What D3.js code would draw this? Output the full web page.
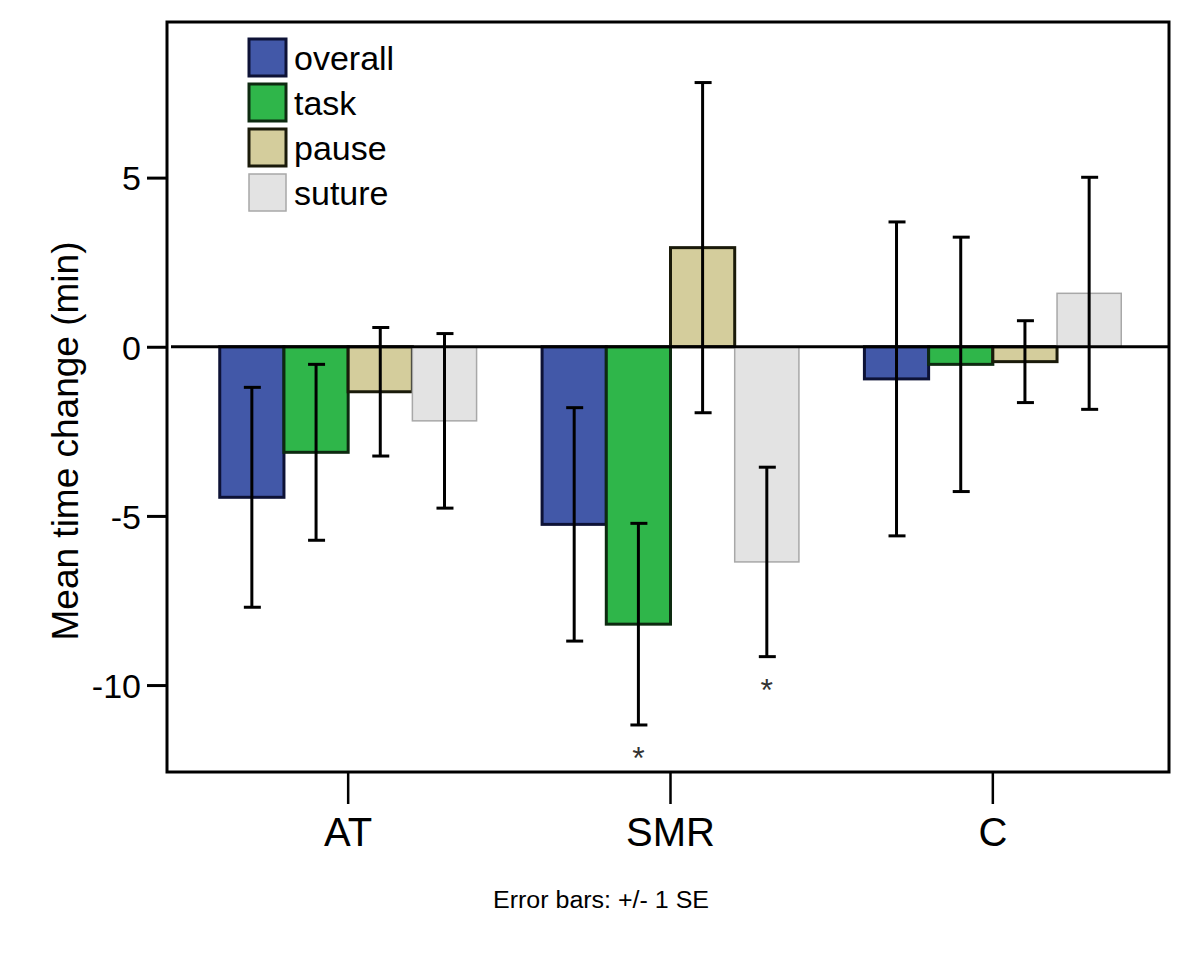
<!DOCTYPE html>
<html>
<head>
<meta charset="utf-8">
<script src="https://cdn.jsdelivr.net/npm/d3@7/dist/d3.min.js"></script>
<style>
  html, body { margin: 0; padding: 0; background: #fff; }
  svg { display: block; font-family: "Liberation Sans", Arial, sans-serif; }
</style>
</head>
<body>
<svg id="chart" width="1200" height="960"></svg>
<script>
// ---- data ----
const groups = ["AT", "SMR", "C"];
const seriesNames = ["overall", "task", "pause", "suture"];
const meanOverall = [-4.45, -5.25, -0.95];
const meanTask    = [-3.12, -8.2, -0.52];
const meanPause   = [-1.33, 2.93, -0.44];
const meanSuture  = [-2.19, -6.36, 1.58];
const seOverall = [3.25, 3.45, 4.64];
const seTask    = [2.6, 2.98, 3.76];
const sePause   = [1.9, 4.88, 1.21];
const seSuture  = [2.58, 2.8, 3.43];
const yTicks = [5, 0, -5, -10];
const significant = [["SMR", "task"], ["SMR", "suture"]];

const colors = ["#4258a8", "#2fb64a", "#d4cd9c", "#e3e3e3"];
const strokes = ["#0d1236", "#0d2a10", "#1a1a0a", "#a8a8a8"];

const means = [meanOverall, meanTask, meanPause, meanSuture];
const ses = [seOverall, seTask, sePause, seSuture];
const rows = [];
groups.forEach((g, gi) => {
  seriesNames.forEach((s, si) => {
    rows.push({ group: g, series: s, si, value: means[si][gi], se: ses[si][gi] });
  });
});

// ---- layout ----
const svg = d3.select("#chart");
const frame = { left: 167, right: 1169, top: 22, bottom: 772 };

const y = d3.scaleLinear().domain([-12.57, 9.6]).range([frame.bottom, frame.top]);
const x0 = d3.scaleBand().domain(groups).range([187, 1154]).padding(0);
const x1 = d3.scaleBand().domain(seriesNames).range([0, x0.bandwidth()]).paddingInner(0).paddingOuter(0.51);

// bars
const barG = svg.append("g");
barG.selectAll("rect").data(rows).join("rect")
  .attr("x", d => x0(d.group) + x1(d.series))
  .attr("width", x1.bandwidth())
  .attr("y", d => y(Math.max(0, d.value)))
  .attr("height", d => Math.abs(y(d.value) - y(0)))
  .attr("fill", d => colors[d.si])
  .attr("stroke", d => strokes[d.si])
  .attr("stroke-width", d => d.si === 3 ? 1.5 : 3);

// zero line
svg.append("line")
  .attr("x1", frame.left + 4).attr("x2", frame.right)
  .attr("y1", y(0)).attr("y2", y(0))
  .attr("stroke", "#000").attr("stroke-width", 3);

// error bars
const errG = svg.append("g").attr("stroke", "#000").attr("stroke-width", 3);
rows.forEach(d => {
  const cx = x0(d.group) + x1(d.series) + x1.bandwidth() / 2;
  const top = y(d.value + d.se), bot = y(d.value - d.se);
  errG.append("line").attr("x1", cx).attr("x2", cx).attr("y1", top).attr("y2", bot);
  errG.append("line").attr("x1", cx - 8).attr("x2", cx + 9).attr("y1", top).attr("y2", top);
  errG.append("line").attr("x1", cx - 8).attr("x2", cx + 9).attr("y1", bot).attr("y2", bot);
});

// significance asterisks
significant.forEach(([g, s]) => {
  const d = rows.find(r => r.group === g && r.series === s);
  const cx = x0(g) + x1(s) + x1.bandwidth() / 2;
  svg.append("text")
    .attr("x", cx).attr("y", y(d.value - d.se) + 44)
    .attr("text-anchor", "middle")
    .attr("font-size", 32).attr("fill", "#333")
    .text("*");
});

// frame
svg.append("rect")
  .attr("x", frame.left).attr("y", frame.top)
  .attr("width", frame.right - frame.left).attr("height", frame.bottom - frame.top)
  .attr("fill", "none").attr("stroke", "#000").attr("stroke-width", 3);

// y axis
const yAxis = d3.axisLeft(y).tickValues(yTicks).tickSize(20).tickPadding(6).tickFormat(d => String(d));
const yG = svg.append("g").attr("transform", `translate(${frame.left},0)`).call(yAxis);
yG.select(".domain").remove();
yG.selectAll(".tick line").attr("stroke", "#000").attr("stroke-width", 3);
yG.selectAll(".tick text").attr("font-size", 34).attr("fill", "#000")
  .attr("font-family", "Liberation Sans, Arial, sans-serif").attr("dy", "0.36em");

// x axis
const xAxis = d3.axisBottom(x0).tickSize(32).tickPadding(14);
const xG = svg.append("g").attr("transform", `translate(0,${frame.bottom})`).call(xAxis);
xG.select(".domain").remove();
xG.selectAll(".tick line").attr("stroke", "#000").attr("stroke-width", 2.5);
xG.selectAll(".tick text").attr("font-size", 40).attr("fill", "#000")
  .attr("font-family", "Liberation Sans, Arial, sans-serif");

// y title
svg.append("text")
  .attr("transform", "translate(78,441) rotate(-90)")
  .attr("text-anchor", "middle")
  .attr("font-size", 37)
  .attr("fill", "#000")
  .text("Mean time change (min)");

// footnote
svg.append("text")
  .attr("x", 601).attr("y", 908)
  .attr("text-anchor", "middle")
  .attr("font-size", 23)
  .attr("textLength", 216).attr("lengthAdjust", "spacingAndGlyphs")
  .attr("fill", "#000")
  .text("Error bars: +/- 1 SE");

// legend
const leg = svg.append("g").attr("transform", "translate(249,39)");
seriesNames.forEach((s, i) => {
  const g = leg.append("g").attr("transform", `translate(0,${i * 45})`);
  g.append("rect").attr("width", 37).attr("height", 37)
    .attr("fill", colors[i]).attr("stroke", strokes[i])
    .attr("stroke-width", i === 3 ? 1.5 : 3);
  g.append("text").attr("x", 45).attr("y", 31)
    .attr("font-size", 34).attr("fill", "#000").text(s);
});
</script>
</body>
</html>
